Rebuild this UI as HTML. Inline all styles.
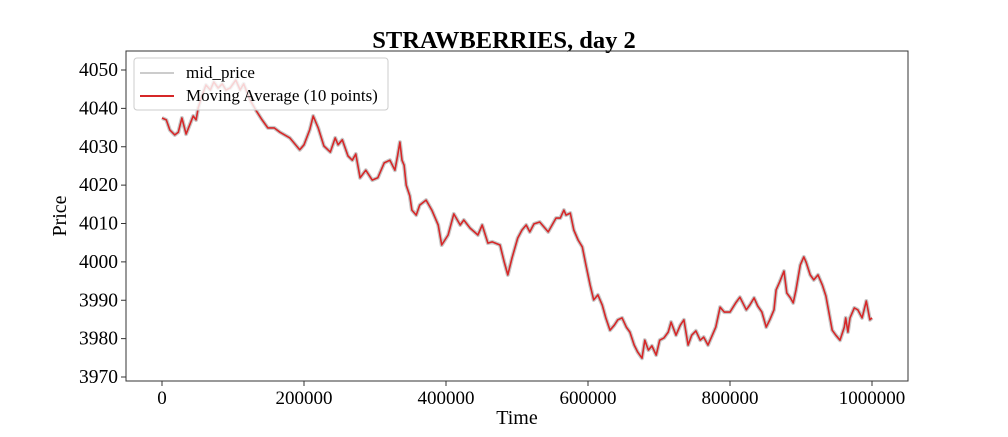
<!DOCTYPE html>
<html><head><meta charset="utf-8"><style>
body{margin:0;background:#fff}
svg text{font-family:"Liberation Serif",serif;fill:#000}
</style></head><body>
<svg id="chart" width="1008" height="432">
<rect width="1008" height="432" fill="#fff"/>
<text x="504" y="48" font-size="24.5" font-weight="bold" text-anchor="middle">STRAWBERRIES, day 2</text>
<g id="series"></g>
<rect x="126" y="51" width="782" height="330" fill="none" stroke="#333" stroke-width="1"/>
<g id="ticks"></g>
<text x="517" y="424" font-size="20" text-anchor="middle">Time</text>
<text transform="translate(66,216) rotate(-90)" font-size="20" text-anchor="middle">Price</text>
<g>
<rect x="134" y="58" width="254" height="52" rx="3" fill="#fff" fill-opacity="0.8" stroke="#ccc"/>
<line x1="140" y1="73" x2="174" y2="73" stroke="#ccc" stroke-width="2"/>
<text x="186" y="78" font-size="17">mid_price</text>
<line x1="140" y1="96" x2="174" y2="96" stroke="#d62728" stroke-width="2"/>
<text x="186" y="101" font-size="17">Moving Average (10 points)</text>
</g>
</svg>
<script>
const times=[0,6,11,18,23,28,34,39,44,48,51,56,62,68,73,79,85,90,96,104,110,115,124,132,141,149,158,166,180,194,200,208,213,220,228,237,244,248,254,262,268,273,279,287,296,304,313,321,328,332,335,338,341,344,349,352,358,363,372,380,389,394,403,411,420,425,434,445,451,459,465,476,482,487,493,501,507,513,518,524,532,544,555,561,566,569,575,580,586,592,597,603,608,614,620,625,631,637,642,648,654,659,665,670,676,680,685,690,696,701,707,713,717,724,730,735,741,746,752,758,763,769,775,780,786,792,800,808,814,823,828,834,839,845,851,856,862,865,870,876,880,885,889,893,899,904,907,913,918,924,930,935,944,949,955,961,963,966,969,975,980,986,992,997,1000];
const prices=[4037.5,4037.0,4034.4,4033.1,4033.8,4037.5,4033.3,4035.7,4038.0,4037.0,4040.1,4043.2,4046.1,4044.8,4046.9,4045.3,4046.4,4044.8,4045.3,4047.4,4044.8,4046.4,4042.2,4039.6,4037.0,4034.9,4034.9,4033.8,4032.3,4029.2,4030.5,4034.4,4038.0,4034.9,4030.2,4028.6,4032.3,4030.5,4031.8,4027.6,4026.5,4028.1,4021.9,4023.9,4021.3,4021.9,4025.8,4026.5,4023.9,4027.8,4031.2,4026.5,4025.2,4020.0,4017.2,4013.5,4012.2,4014.8,4016.1,4013.5,4009.6,4004.4,4007.0,4012.5,4009.6,4010.9,4008.8,4007.0,4009.6,4004.9,4005.2,4004.4,4000.0,3996.6,4001.0,4006.2,4008.3,4009.6,4007.8,4009.9,4010.4,4007.8,4011.4,4011.4,4013.5,4012.2,4012.7,4008.3,4005.7,4003.9,3999.2,3994.0,3990.1,3991.4,3988.8,3985.4,3982.2,3983.5,3984.9,3985.4,3983.0,3981.7,3978.3,3976.5,3974.9,3979.6,3977.0,3978.1,3975.7,3979.6,3980.2,3981.7,3984.3,3980.9,3983.5,3984.9,3978.3,3980.9,3982.0,3979.6,3980.4,3978.3,3980.9,3983.0,3988.2,3986.9,3986.9,3989.3,3990.8,3987.5,3988.8,3990.6,3988.5,3986.9,3983.0,3984.9,3987.5,3992.7,3994.8,3997.6,3991.9,3990.6,3989.3,3992.7,3999.2,4001.3,4000.0,3996.6,3995.3,3996.6,3994.0,3991.1,3982.2,3980.9,3979.6,3983.0,3985.4,3981.7,3985.4,3988.0,3987.5,3985.4,3989.8,3984.9,3985.4];
const yTicks=[3970,3980,3990,4000,4010,4020,4030,4040,4050];
const xTicks=[0,200000,400000,600000,800000,1000000];
const X=t=>162+t/1e6*710;
const Y=p=>70+(4050-p)*3.8375;
const NS='http://www.w3.org/2000/svg';
const ticks=document.getElementById('ticks');
yTicks.forEach(v=>{
  const l=document.createElementNS(NS,'line');
  l.setAttribute('x1',121);l.setAttribute('x2',126);l.setAttribute('y1',Y(v));l.setAttribute('y2',Y(v));l.setAttribute('stroke','#333');
  
  
  ticks.appendChild(l);
  const t=document.createElementNS(NS,'text');
  t.setAttribute('x',118);t.setAttribute('y',Y(v)+6);t.setAttribute('text-anchor','end');t.setAttribute('font-size','19.5');
  t.textContent=v;
  
  
  ticks.appendChild(t);
});
xTicks.forEach(v=>{
  const l=document.createElementNS(NS,'line');
  l.setAttribute('x1',X(v));l.setAttribute('x2',X(v));l.setAttribute('y1',381);l.setAttribute('y2',386);l.setAttribute('stroke','#333');
  
  
  ticks.appendChild(l);
  const t=document.createElementNS(NS,'text');
  t.setAttribute('x',X(v));t.setAttribute('y',404);t.setAttribute('text-anchor','middle');t.setAttribute('font-size','19');
  t.textContent=v;
  
  
  ticks.appendChild(t);
});
const pts=times.map((t,i)=>X(t*1000).toFixed(1)+','+Y(prices[i]).toFixed(1)).join(' ');
const s=document.getElementById('series');
const g=document.createElementNS(NS,'polyline');
g.setAttribute('points',pts);g.setAttribute('fill','none');g.setAttribute('stroke','#c8c8c8');g.setAttribute('stroke-width','4');g.setAttribute('stroke-linejoin','round');


s.appendChild(g);
const r=document.createElementNS(NS,'polyline');
r.setAttribute('points',pts);r.setAttribute('fill','none');r.setAttribute('stroke','#d62728');r.setAttribute('stroke-width','1.6');r.setAttribute('stroke-linejoin','round');


s.appendChild(r);
</script>
</body></html>
